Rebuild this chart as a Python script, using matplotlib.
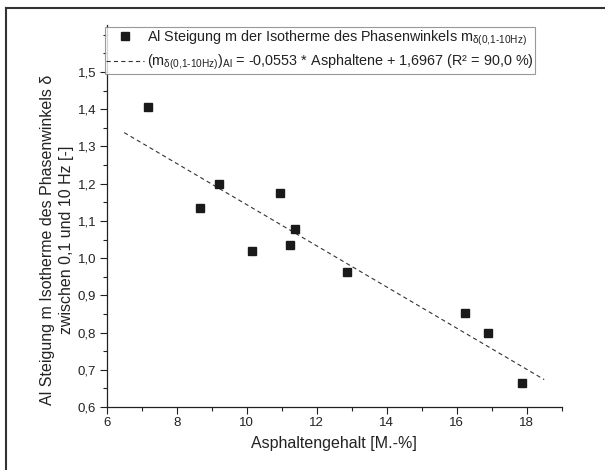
import numpy as np
import matplotlib
matplotlib.use("Agg")
import matplotlib.pyplot as plt
from matplotlib.ticker import MultipleLocator, FuncFormatter
from matplotlib.lines import Line2D

plt.rcParams['font.family'] = ['Liberation Sans', 'DejaVu Sans']
plt.rcParams['mathtext.fontset'] = 'custom'
plt.rcParams['mathtext.rm'] = 'Liberation Sans'
plt.rcParams['mathtext.it'] = 'Liberation Sans:italic'
plt.rcParams['lines.scale_dashes'] = False

# Asphaltengehalt [M.-%] und Steigung m
asphalt = [7.19, 8.67, 9.20, 10.15, 10.94, 11.25, 11.38, 12.87, 16.23, 16.89, 17.86]
steigung = [1.405, 1.134, 1.200, 1.020, 1.175, 1.035, 1.077, 0.962, 0.853, 0.800, 0.664]

# lineare Regression aus dem Original
slope = -0.0553
intercept = 1.6967
fit_range = [6.5, 18.5]

sub = "$_{\\mathrm{\\delta(0{,}1\\text{-}10Hz)}}$"
label_points = "Al Steigung m der Isotherme des Phasenwinkels m" + sub
label_fit = ("(m" + sub + ")$_{\\mathrm{Al}}$ = -0,0553 * Asphaltene"
             " + 1,6967 (R² = 90,0 %)")


def comma(v, pos):
    return "{:.1f}".format(v).replace(".", ",")


def main():
    W, H = 605, 470
    fig = plt.figure(figsize=(W / 100, H / 100), dpi=100)
    ax = fig.add_axes([106.7 / W, 1 - 407 / H, 455 / W, 382 / H])

    xf = np.array(fit_range)
    ax.plot(xf, slope * xf + intercept, color='#333333', lw=0.8,
            dashes=(3, 2.3), label=label_fit)
    ax.plot(asphalt, steigung, 's', color='#1a1a1a', ms=5.3, label=label_points)

    ax.set_xlim(6, 19)
    ax.xaxis.set_major_locator(MultipleLocator(2))
    ax.xaxis.set_minor_locator(MultipleLocator(1))
    ax.set_yticks(np.arange(0.6, 1.51, 0.1))
    ax.yaxis.set_minor_locator(MultipleLocator(0.05))
    ax.yaxis.set_major_formatter(FuncFormatter(comma))
    ax.set_ylim(0.6, 1.5 + 47 / 372)

    for s in ['top', 'right']:
        ax.spines[s].set_visible(False)
    for s in ['left', 'bottom']:
        ax.spines[s].set_linewidth(0.9)
        ax.spines[s].set_color('#222222')
    ax.tick_params(which='major', direction='out', length=5, width=0.8,
                   labelsize=9.5, pad=2.5, colors='#222222')
    ax.tick_params(which='minor', direction='out', length=3, width=0.8,
                   colors='#222222')

    ax.set_xlabel("Asphaltengehalt [M.-%]", fontsize=11.5, color='#222222', labelpad=5)
    fig.text(57 / W, 1 - 240 / H,
             "Al Steigung m Isotherme des Phasenwinkels δ\nzwischen 0,1 und 10 Hz [-]",
             rotation=90, ha='center', va='center', multialignment='center',
             fontsize=11.5, color='#222222', linespacing=1.25)

    h, l = ax.get_legend_handles_labels()
    leg = ax.legend(h[::-1], l[::-1], loc='upper left',
                    bbox_to_anchor=(105 / W, 1 - 27 / H), bbox_transform=fig.transFigure,
                    borderaxespad=0, fontsize=10.4, frameon=True, fancybox=False,
                    edgecolor='#808080', borderpad=0.1, handlelength=2.6,
                    handletextpad=0.2, labelspacing=0.35)
    leg.get_frame().set_linewidth(0.8)
    for t in leg.get_texts():
        t.set_color('#222222')

    # Rahmen um die Grafik
    fig.add_artist(Line2D([6 / W, 1], [1 - 8 / H, 1 - 8 / H], transform=fig.transFigure,
                          color='#333333', lw=1.5))
    fig.add_artist(Line2D([6 / W, 6 / W], [0, 1 - 8 / H], transform=fig.transFigure,
                          color='#333333', lw=1.5))

    fig.savefig("out.png", dpi=100)


if __name__ == '__main__':
    main()
